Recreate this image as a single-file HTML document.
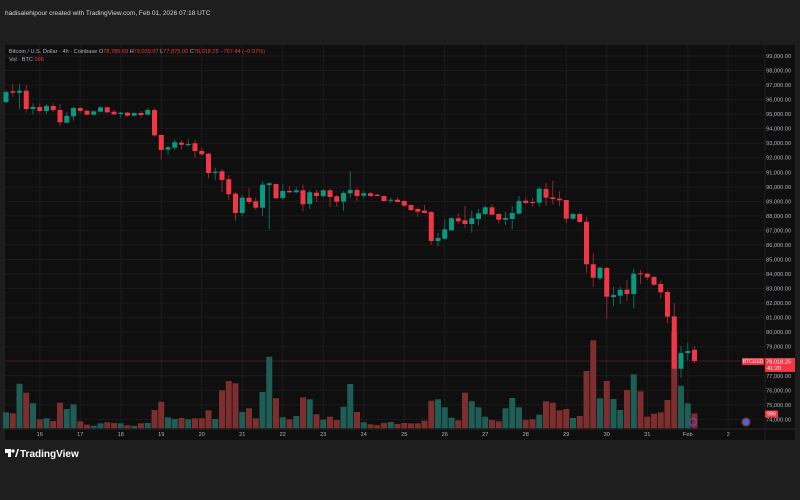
<!DOCTYPE html>
<html><head><meta charset="utf-8"><style>
html,body{margin:0;padding:0;background:#1e1e1e;width:800px;height:500px;overflow:hidden;font-family:"Liberation Sans",sans-serif}
svg{display:block}
</style></head><body>
<svg id="chart" width="800" height="500" xmlns="http://www.w3.org/2000/svg">
<rect x="0" y="0" width="800" height="500" fill="#1e1e1e"/>
<text x="5" y="15" fill="#d1d4dc" font-size="6.5">hadisalehipour created with TradingView.com, Feb 01, 2026 07:18 UTC</text>
<rect x="5" y="45" width="790" height="395" fill="#0f0f0f"/>
<g id="grid"></g>
<g id="vols"></g>
<g id="candles"></g>
<g id="yaxis"></g>
<g id="xaxis"></g>
<line x1="5" y1="429" x2="795" y2="429" stroke="#2a2a2a" stroke-width="1"/>
<line x1="765" y1="45" x2="765" y2="440" stroke="#1f1f1f" stroke-width="1"/>
<text x="9" y="53" font-size="5.6" fill="#b2b5be">Bitcoin / U.S. Dollar · 4h · Coinbase <tspan fill="#b2b5be">O</tspan><tspan fill="#f23645">78,785.69</tspan> <tspan fill="#b2b5be">H</tspan><tspan fill="#f23645">79,039.07</tspan> <tspan fill="#b2b5be">L</tspan><tspan fill="#f23645">77,875.00</tspan> <tspan fill="#b2b5be">C</tspan><tspan fill="#f23645">78,018.25</tspan> <tspan fill="#f23645">−767.44 (−0.97%)</tspan></text>
<text x="9" y="61" font-size="5.6" fill="#b2b5be">Vol · BTC <tspan fill="#f23645">996</tspan></text>
<g id="overlay"></g>
<g>
<rect x="5" y="449" width="6" height="4" fill="#ffffff"/><rect x="8" y="449" width="3" height="8" fill="#ffffff"/><circle cx="13" cy="451" r="1.6" fill="#ffffff"/><path d="M15 457 L17.5 449 L19 449 L16.5 457 Z" fill="#ffffff"/>
<text x="20" y="457" font-size="10" font-weight="bold" fill="#ffffff">TradingView</text>
</g>
</svg>
<script>
const opens=[95835,96571,96475,96613,95354,95491,95216,95560,95285,94411,94851,95422,95237,94961,95168,95471,95168,95010,95099,94893,95078,94961,95285,93565,92554,92692,93035,92877,92994,92464,92278,90950,91067,90517,89526,88198,89251,89003,88563,90125,90194,89230,89712,89622,89760,88818,89595,89368,89760,89347,88976,89554,89781,89389,89554,89457,89368,89045,89113,89024,88749,88474,88357,88267,86272,86430,87008,87834,87696,87442,87786,88130,88590,88130,87738,87786,88150,89045,88955,88907,89850,89278,89182,89093,87806,88130,87600,84669,83706,84414,82419,82508,82922,82626,84049,84022,83795,83314,82763,81091,77486,78566,78785.69];
const highs=[96660,97074,97074,97005,95746,95746,95698,95746,95698,95127,95512,95512,95285,95250,95512,95526,95285,95147,95147,95113,95237,95422,95422,93599,92829,93269,93221,93269,93221,92719,92326,91315,91226,90813,89643,89437,89918,89251,90400,90311,90230,90173,90056,89967,90173,89781,89781,89829,89898,89437,89712,91088,89967,89733,89643,89506,89402,89251,89278,89072,88818,88590,88749,88336,86843,87765,87903,88178,88700,88357,88474,88700,88797,88178,88267,88680,89368,89278,89230,89967,90284,90400,89691,89093,88178,88246,87944,85426,84504,84504,83128,83128,83589,84393,84277,84070,83864,83541,82901,81986,79048,79275,79039.07];
const lows=[95770,96200,95354,95099,95010,95099,95030,95147,94184,94390,94549,95058,94941,94906,95127,95078,94920,94755,94838,94851,94783,94920,93448,91845,92209,92533,92581,92760,92003,92141,90586,90469,89643,89093,87669,88013,88818,88405,87992,87077,89180,89093,89554,89554,88316,88474,88976,89251,88631,88631,88357,89251,89003,89210,89320,89347,88976,88907,88934,88631,88336,87923,88178,85997,85907,86341,86981,87421,87146,86843,87352,88061,88061,87490,87352,87077,88109,88797,88631,88631,88701,88797,88680,87490,87717,87531,84091,83128,83589,80926,81800,81938,82165,81614,83314,83589,83176,82302,80610,75491,76867,78085,77875.00];
const closes=[96520,96475,96613,95354,95491,95216,95560,95285,94439,94872,95422,95216,94961,95195,95471,95127,94989,95099,94893,95078,94941,95285,93544,92533,92719,93063,92898,92946,92464,92237,90950,91040,90469,89485,88198,89251,88955,88563,90145,90242,89210,89712,89622,89760,88797,89622,89368,89760,89299,88976,89574,89781,89368,89554,89368,89368,89024,89113,88955,88701,88405,88288,88198,86272,86478,87077,87834,87627,87442,87834,88178,88590,88081,87738,87854,88198,89024,88886,88907,89870,89251,89162,89072,87806,88130,87579,84669,83747,84435,82440,82557,82922,82626,84022,83981,83774,83265,82743,81063,77486,78566,78704,78018.25];
const volumes=[1077,1010,3015,2405,1687,603,671,488,1728,1301,1619,467,237,169,332,400,352,332,196,149,332,352,1233,1795,738,623,691,603,671,671,1213,623,2568,3198,3042,1098,1348,671,2453,4844,2026,738,603,827,2093,1958,942,576,779,556,1457,2995,1098,400,264,217,352,420,285,352,332,332,508,1863,1958,1416,711,535,2405,1822,1416,779,556,467,1348,2046,1416,556,603,915,1822,1728,1213,1301,691,827,3875,5955,2026,3198,1978,1233,2588,3652,2500,779,982,1077,1911,6470,2879,1687,996];
const priceTicks=[99000,98000,97000,96000,95000,94000,93000,92000,91000,90000,89000,88000,87000,86000,85000,84000,83000,82000,81000,80000,79000,77000,76000,75000,74000];
const dayLabels=["16","17","18","19","20","21","22","23","24","25","26","27","28","29","30","31","Feb","2"];
const lastPrice=78018.25;

const NS="http://www.w3.org/2000/svg";
const xOf=i=>6+6.75*i;
const yOf=p=>56+(99000-p)*0.014535;
const volBase=428.2, volScale=0.01476;
const hOfVol=v=>v*volScale;
function mk(tag,attrs,parent){const e=document.createElementNS(NS,tag);for(const k in attrs)e.setAttribute(k,attrs[k]);parent.appendChild(e);return e;}
const grid=document.getElementById('grid'),vols=document.getElementById('vols'),cg=document.getElementById('candles'),ya=document.getElementById('yaxis'),xa=document.getElementById('xaxis'),ov=document.getElementById('overlay');

priceTicks.forEach(p=>{
  const y=yOf(p);
  const l=mk('line',{x1:5,x2:765,y1:y,y2:y,stroke:'#1b1b1b','stroke-width':1},grid);
  
  
  const t=mk('text',{x:791,y:y+2,'font-size':5.6,fill:'#b2b5be','text-anchor':'end'},ya);
  t.textContent=p.toLocaleString('en-US',{minimumFractionDigits:2});
  
  
});
dayLabels.forEach((d,k)=>{
  const x=xOf(5+6*k);
  const l=mk('line',{x1:x,x2:x,y1:45,y2:429,stroke:'#1b1b1b','stroke-width':1},grid);
  
  
  const t=mk('text',{x:x,y:436,'font-size':5.6,fill:'#b2b5be','text-anchor':'middle'},xa);
  t.textContent=d;
  
  
});
volumes.forEach((v,i)=>{
  const up=closes[i]>=opens[i];const h=hOfVol(v);
  const r=mk('rect',{x:xOf(i)-3,y:volBase-h,width:6,height:h,fill:up?'#1f5e56':'#7d2e2f'},vols);
  
  
});
const ly=yOf(lastPrice);
const pl=mk('line',{x1:5,x2:765,y1:ly,y2:ly,stroke:'#5a1f24','stroke-width':0.8},grid);


opens.forEach((o,i)=>{
  const c=closes[i],up=c>=o,col=up?'#089981':'#f23645',wc=up?'#0b6b5c':'#8f2630';
  const x=xOf(i);
  const w=mk('line',{x1:x,x2:x,y1:yOf(highs[i]),y2:yOf(lows[i]),stroke:wc,'stroke-width':1},cg);
  
  
  const yt=yOf(Math.max(o,c)),yb=yOf(Math.min(o,c));
  const b=mk('rect',{x:x-2.5,y:yt,width:5,height:Math.max(1,yb-yt),fill:col},cg);
  
  
});
const sym=mk('rect',{x:742,y:ly-3,width:22,height:7,fill:'#f23645'},ov);


const st=mk('text',{x:753,y:ly+2,'font-size':5,fill:'#fff','text-anchor':'middle'},ov);st.textContent='BTCUSD';


const pb=mk('rect',{x:765,y:ly-3,width:30,height:14,fill:'#f23645'},ov);


const pt=mk('text',{x:791,y:ly+2.5,'font-size':5.6,fill:'#fff','text-anchor':'end'},ov);pt.textContent=lastPrice.toLocaleString('en-US',{minimumFractionDigits:2});


const ct=mk('text',{x:767,y:ly+9,'font-size':5.6,fill:'#fff'},ov);ct.textContent='41:20';


const vy=volBase-hOfVol(volumes[volumes.length-1]);
const vb=mk('rect',{x:765,y:vy-3,width:13,height:7,fill:'#f23645'},ov);


const vt=mk('text',{x:771.5,y:vy+2,'font-size':5.2,fill:'#fff','text-anchor':'middle'},ov);vt.textContent=String(volumes[volumes.length-1]);


const e1=mk('circle',{cx:693,cy:422,r:3.5,fill:'none',stroke:'#7b3fc4','stroke-width':1},ov);


const e2=mk('circle',{cx:746,cy:422,r:4,fill:'#3a6fd8',stroke:'#8f2630','stroke-width':1.2},ov);


</script>
</body></html>
